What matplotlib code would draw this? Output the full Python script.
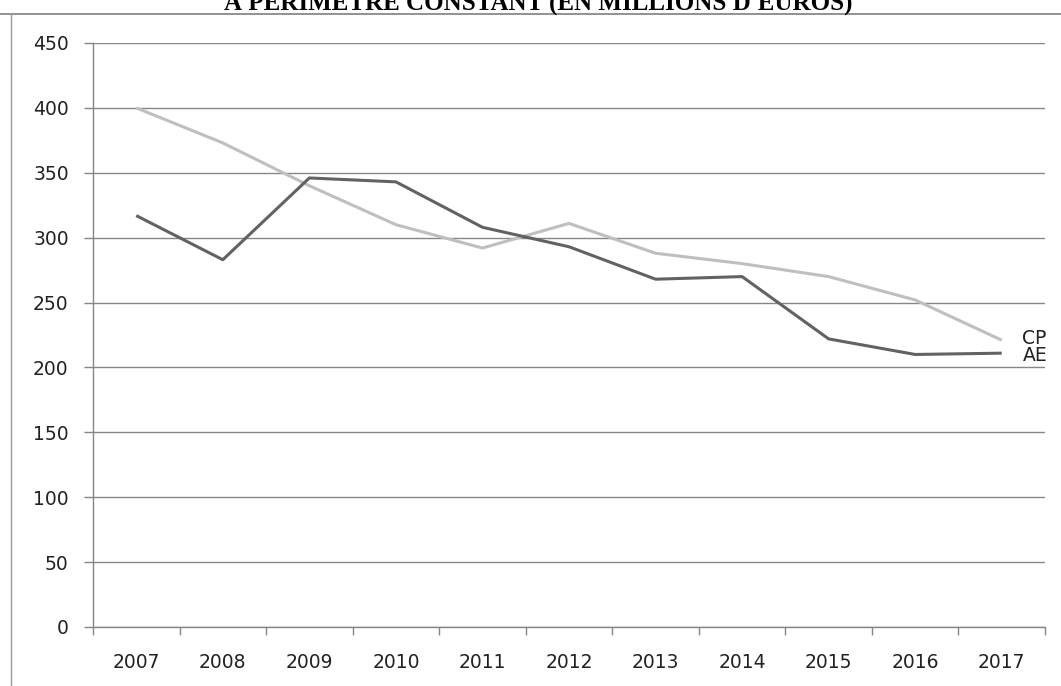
import numpy as np
import matplotlib
matplotlib.use("Agg")
import matplotlib.pyplot as plt
from matplotlib.lines import Line2D

# donnees
annees = ["2007", "2008", "2009", "2010", "2011", "2012", "2013", "2014", "2015", "2016", "2017"]
cp = [400, 373, 340, 310, 292, 311, 288, 280, 270, 252, 221]
ae = [317, 283, 346, 343, 308, 293, 268, 270, 222, 210, 211]
titre = "À PÉRIMÈTRE CONSTANT (EN MILLIONS D'EUROS)"

gris_axe = "#868686"
taille = 13.5

fig = plt.figure(figsize=(10.61, 6.86), dpi=100)
ax = fig.add_axes([93/1061, 1-627/686, (1045-93)/1061, (627-43)/686])

x = np.arange(len(annees))
ax.plot(x, cp, color="#bfbfbf", lw=2.2, solid_capstyle="butt")
ax.plot(x, ae, color="#626262", lw=2.2, solid_capstyle="butt")

# etiquettes des series (elles se chevauchent comme dans l'original)
ax.text(x[-1] + 0.24, cp[-1] + 1, "CP", fontsize=taille, color="#222222", va="center", ha="left")
ax.text(x[-1] + 0.24, ae[-1] - 2, "AE", fontsize=taille, color="#222222", va="center", ha="left")

ax.set_xlim(-0.5, len(annees) - 0.5)
ax.set_ylim(0, 450)
ax.set_yticks(np.arange(0, 451, 50))
ax.yaxis.grid(True, color=gris_axe, lw=1)
ax.set_axisbelow(True)

ax.set_xticks(np.arange(-0.5, len(annees), 1.0))
ax.set_xticklabels([])
ax.set_xticks(x, minor=True)
ax.set_xticklabels(annees, minor=True)
ax.tick_params(axis="x", which="major", length=6, color=gris_axe, width=1)
ax.tick_params(axis="x", which="minor", length=0, pad=19, labelsize=taille, labelcolor="#222222")
ax.tick_params(axis="y", length=6.5, color=gris_axe, width=1, pad=11, labelsize=taille, labelcolor="#222222")

for s in ["top", "right"]:
    ax.spines[s].set_visible(False)
for s in ["left", "bottom"]:
    ax.spines[s].set_color(gris_axe)
    ax.spines[s].set_linewidth(1)

# cadre et titre coupe en haut
fig.add_artist(Line2D([0, 1], [1-14/686, 1-14/686], color="#7f7f7f", lw=1.2))
fig.add_artist(Line2D([11/1061, 11/1061], [0, 1-14/686], color="#9a9a9a", lw=1))
fig.text(0.507, 1-10/686, titre, ha="center", va="baseline", fontsize=18,
         fontweight="bold", family="Liberation Serif", color="black")

fig.savefig("out.png", dpi=100)
